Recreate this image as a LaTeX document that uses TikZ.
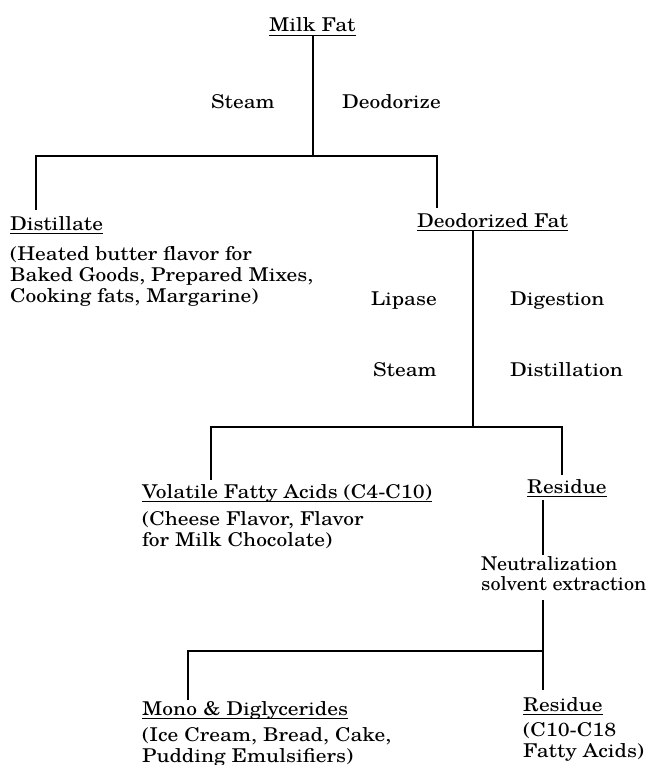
\documentclass[tikz,border=0pt]{standalone}
\usepackage{fontspec}
\setmainfont{TeX Gyre Schola}[FakeStretch=1.13]
\newfontfamily\narrowschola{TeX Gyre Schola}[FakeStretch=1.06]
\begin{document}
\begin{tikzpicture}[x=1pt,y=-1pt,
  txt/.style={inner sep=0pt, font=\fontsize{19}{21}\selectfont},
  ttl/.style={txt, anchor=base west},
  desc/.style={txt, anchor=north west, align=left},
  lblr/.style={txt, anchor=base east},
  lbll/.style={txt, anchor=base west},
  ln/.style={line width=1.7pt},
  ul/.style={line width=1.5pt}]
\useasboundingbox[fill=white] (0,0) rectangle (651,765);

% titles
\node[ttl] (milk) at (269,32) {Milk Fat};
\node[ttl] (dist) at (10,230) {Distillate};
\node[ttl] (deo)  at (417,227) {Deodorized Fat};
\node[ttl] (vol)  at (142,498) {Volatile Fatty Acids (C4-C10)};
\node[ttl] (res1) at (527,493) {Residue};
\node[ttl] (mono) at (142,715) {Mono \& Diglycerides};
\node[ttl] (res2) at (523,711) {Residue};

% underlines
\foreach \n in {milk,dist,deo,vol,res1,mono,res2}
  \draw[ul] ([yshift=-3.5pt]\n.base west) -- ([yshift=-3.5pt]\n.base east);

% descriptions
\node[desc] (distd) at (10,246) {(Heated butter flavor for\\Baked Goods, Prepared Mixes,\\Cooking fats, Margarine)};
\node[desc] (vold) at (142,511) {(Cheese Flavor, Flavor\\for Milk Chocolate)};
\node[desc] (monod) at (142,727) {(Ice Cream, Bread, Cake,\\Pudding Emulsifiers)};
\node[desc] (res2d) at (523,722) {(C10-C18\\Fatty Acids)};

% process labels
\node[lblr] (steam1) at (275,109) {Steam};
\node[lbll] (deodz) at (342,109) {Deodorize};
\node[lblr] (lip) at (437,305) {Lipase};
\node[lbll] (dig) at (510,305) {Digestion};
\node[lblr] (steam2) at (437,376) {Steam};
\node[lbll] (distl) at (510,376) {Distillation};
\node[desc, font=\narrowschola\fontsize{19}{20}\selectfont] (neut) at (481,556) {Neutralization\\solvent extraction};

% junction coordinates
\coordinate (a0) at (313,36);
\coordinate (a1) at (313,156);
\coordinate (a2) at (36,210);
\coordinate (a3) at (437,156);
\coordinate (a4) at (437,208);
\coordinate (b0) at (473,231);
\coordinate (b1) at (473,427);
\coordinate (b2) at (211,480);
\coordinate (b3) at (562,427);
\coordinate (b4) at (562,475);
\coordinate (c0) at (543,500);
\coordinate (c1) at (543,555);
\coordinate (c2) at (543,600);
\coordinate (c3) at (543,690);
\coordinate (c4) at (543,651);
\coordinate (c5) at (188,700);

% connectors
\draw[ln] (a0) -- (a1);
\draw[ln] (a2) |- (a3) -- (a4);
\draw[ln] (b0) -- (b1);
\draw[ln] (b2) |- (b3) -- (b4);
\draw[ln] (c0) -- (c1);
\draw[ln] (c2) -- (c3);
\draw[ln] (c5) |- (c4);
\end{tikzpicture}
\end{document}
